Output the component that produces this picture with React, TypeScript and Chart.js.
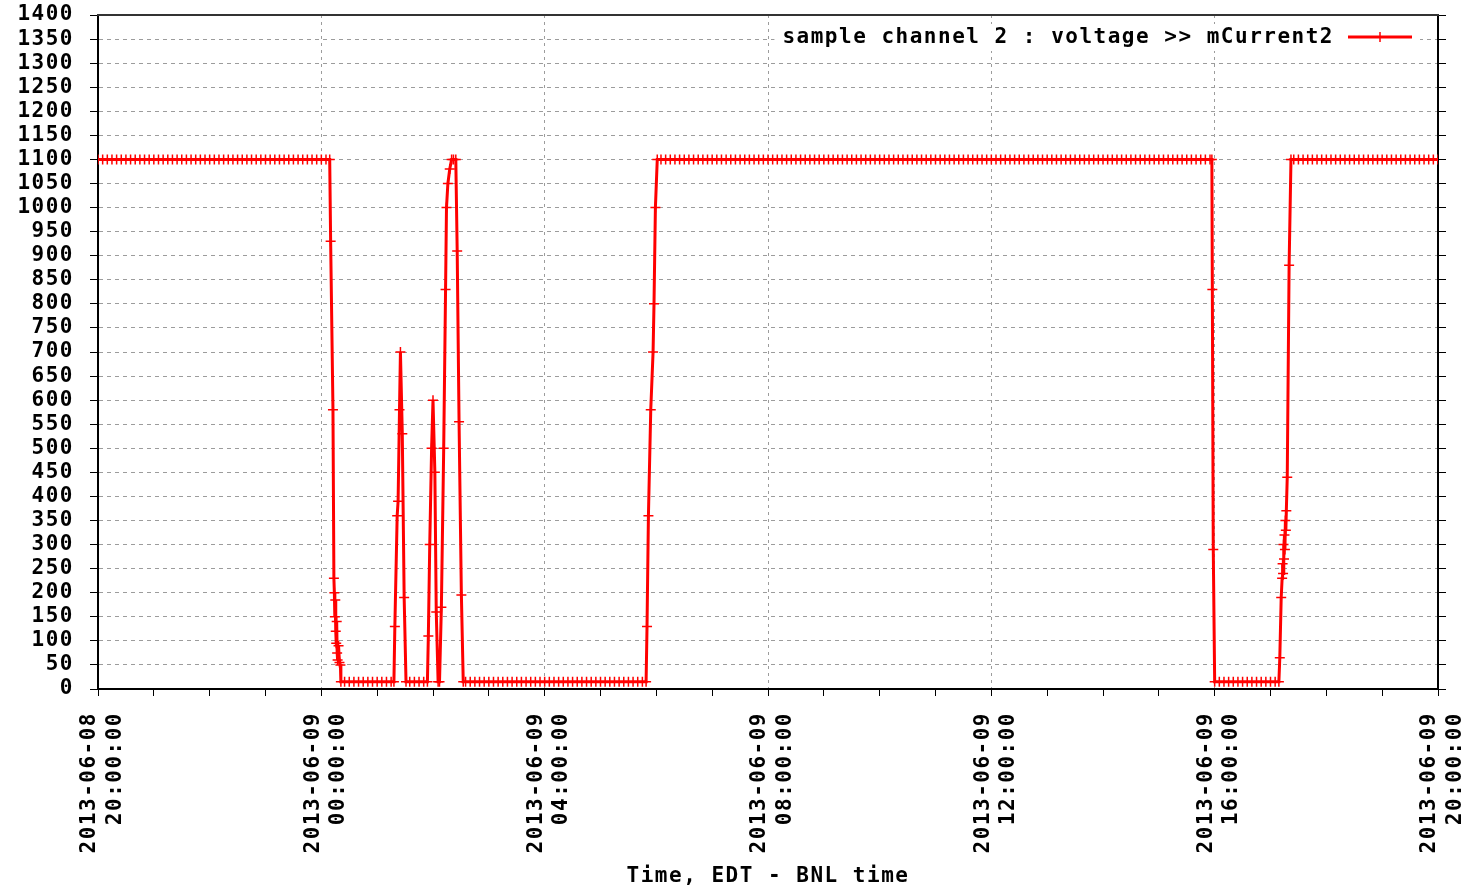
import React, { useEffect, useRef } from "react";
import { Chart, registerables } from "chart.js";

Chart.register(...registerables);

// ---- text ----
const SERIES_LABEL = "sample channel 2 : voltage >> mCurrent2";
const X_TITLE = "Time, EDT - BNL time";
// one label every 4 hours, starting 2013-06-08 20:00:00
const X_TICK_LABELS = [
  ["2013-06-08", "20:00:00"],
  ["2013-06-09", "00:00:00"],
  ["2013-06-09", "04:00:00"],
  ["2013-06-09", "08:00:00"],
  ["2013-06-09", "12:00:00"],
  ["2013-06-09", "16:00:00"],
  ["2013-06-09", "20:00:00"],
];

// ---- data: [minutes since 2013-06-08 20:00 EDT, mCurrent2] ----
const segA = [
  [0, 1100], [5, 1100], [10, 1100], [15, 1100], [20, 1100], [25, 1100], [30, 1100], [35, 1100], [40, 1100], [45, 1100],
  [50, 1100], [55, 1100], [60, 1100], [65, 1100], [70, 1100], [75, 1100], [80, 1100], [85, 1100], [90, 1100], [95, 1100],
  [100, 1100], [105, 1100], [110, 1100], [115, 1100], [120, 1100], [125, 1100], [130, 1100], [135, 1100], [140, 1100], [145, 1100],
  [150, 1100], [155, 1100], [160, 1100], [165, 1100], [170, 1100], [175, 1100], [180, 1100], [185, 1100], [190, 1100], [195, 1100],
  [200, 1100], [205, 1100], [210, 1100], [215, 1100], [220, 1100], [225, 1100], [230, 1100], [235, 1100], [240, 1100], [245, 1100],
  [249, 1100],
];
const segDrop1 = [
  [250, 930], [252.5, 580], [253.5, 230], [254, 200], [254.5, 150], [255, 185], [255.5, 120], [256, 95],
  [256.5, 140], [257, 75], [257.5, 60], [258.5, 90], [259.5, 55], [260.5, 50],
];
const segLow1 = [
  [261, 15], [265, 15], [270, 15], [275, 15], [280, 15], [285, 15], [290, 15], [295, 15], [300, 15], [305, 15],
  [310, 15], [315, 15], [318, 15],
];
const segSpikes = [
  [319, 130], [321.5, 360], [322.5, 390], [324, 580], [325, 700], [327, 530], [329, 190], [331, 15],
  [335, 15], [340, 15], [345, 15], [350, 15], [354, 15],
  [355, 110], [356.5, 300], [358.5, 500], [360, 600], [362, 450], [363.5, 160], [365.5, 15], [367, 15],
  [369, 170], [371.5, 500], [373.5, 830], [374.5, 1000], [376, 1050], [378, 1080], [380, 1100], [382, 1100],
  [384.5, 1100], [386, 910], [388, 555], [390.5, 195], [392.5, 15],
];
const segLow2 = [
  [395, 15], [400, 15], [405, 15], [410, 15], [415, 15], [420, 15], [425, 15], [430, 15], [435, 15], [440, 15],
  [445, 15], [450, 15], [455, 15], [460, 15], [465, 15], [470, 15], [475, 15], [480, 15], [485, 15], [490, 15],
  [495, 15], [500, 15], [505, 15], [510, 15], [515, 15], [520, 15], [525, 15], [530, 15], [535, 15], [540, 15],
  [545, 15], [550, 15], [555, 15], [560, 15], [565, 15], [570, 15], [575, 15], [580, 15], [585, 15], [589, 15],
];
const segRise1 = [
  [590, 130], [591.5, 360], [594, 580], [596.5, 700], [597.5, 800], [599, 1000], [601, 1100],
];
const segHigh = [
  [605, 1100], [610, 1100], [615, 1100], [620, 1100], [625, 1100], [630, 1100], [635, 1100], [640, 1100], [645, 1100], [650, 1100],
  [655, 1100], [660, 1100], [665, 1100], [670, 1100], [675, 1100], [680, 1100], [685, 1100], [690, 1100], [695, 1100], [700, 1100],
  [705, 1100], [710, 1100], [715, 1100], [720, 1100], [725, 1100], [730, 1100], [735, 1100], [740, 1100], [745, 1100], [750, 1100],
  [755, 1100], [760, 1100], [765, 1100], [770, 1100], [775, 1100], [780, 1100], [785, 1100], [790, 1100], [795, 1100], [800, 1100],
  [805, 1100], [810, 1100], [815, 1100], [820, 1100], [825, 1100], [830, 1100], [835, 1100], [840, 1100], [845, 1100], [850, 1100],
  [855, 1100], [860, 1100], [865, 1100], [870, 1100], [875, 1100], [880, 1100], [885, 1100], [890, 1100], [895, 1100], [900, 1100],
  [905, 1100], [910, 1100], [915, 1100], [920, 1100], [925, 1100], [930, 1100], [935, 1100], [940, 1100], [945, 1100], [950, 1100],
  [955, 1100], [960, 1100], [965, 1100], [970, 1100], [975, 1100], [980, 1100], [985, 1100], [990, 1100], [995, 1100], [1000, 1100],
  [1005, 1100], [1010, 1100], [1015, 1100], [1020, 1100], [1025, 1100], [1030, 1100], [1035, 1100], [1040, 1100], [1045, 1100], [1050, 1100],
  [1055, 1100], [1060, 1100], [1065, 1100], [1070, 1100], [1075, 1100], [1080, 1100], [1085, 1100], [1090, 1100], [1095, 1100], [1100, 1100],
  [1105, 1100], [1110, 1100], [1115, 1100], [1120, 1100], [1125, 1100], [1130, 1100], [1135, 1100], [1140, 1100], [1145, 1100], [1150, 1100],
  [1155, 1100], [1160, 1100], [1165, 1100], [1170, 1100], [1175, 1100], [1180, 1100], [1185, 1100], [1190, 1100], [1195, 1100], [1197, 1100],
];
const segDrop2 = [
  [1197.5, 830], [1198.5, 290], [1200, 15],
];
const segLow3 = [
  [1205, 15], [1210, 15], [1215, 15], [1220, 15], [1225, 15], [1230, 15], [1235, 15], [1240, 15], [1245, 15], [1250, 15],
  [1255, 15], [1260, 15], [1265, 15], [1269, 15],
];
const segRise2 = [
  [1270, 65], [1271.5, 190], [1272.5, 230], [1273, 260], [1273.5, 240], [1274, 300], [1274.5, 270], [1275, 320],
  [1275.5, 290], [1276, 350], [1276.5, 330], [1277, 370], [1278, 440], [1280, 880], [1282, 1100],
];
const segTail = [
  [1285, 1100], [1290, 1100], [1295, 1100], [1300, 1100], [1305, 1100], [1310, 1100], [1315, 1100], [1320, 1100], [1325, 1100], [1330, 1100],
  [1335, 1100], [1340, 1100], [1345, 1100], [1350, 1100], [1355, 1100], [1360, 1100], [1365, 1100], [1370, 1100], [1375, 1100], [1380, 1100],
  [1385, 1100], [1390, 1100], [1395, 1100], [1400, 1100], [1405, 1100], [1410, 1100], [1415, 1100], [1420, 1100], [1425, 1100], [1430, 1100],
  [1435, 1100], [1440, 1100],
];

const SEGMENTS = [segA, segDrop1, segLow1, segSpikes, segLow2, segRise1, segHigh, segDrop2, segLow3, segRise2, segTail];

// ---- styles ----
const FONT_FAMILY = "'DejaVu Sans Mono', 'Liberation Mono', monospace";
const FONT_SIZE = 21;
const LETTER_SPACING = "1.5px";
const RED = "#ff0000";
const GRID = "#9c9c9c";

const spacingPlugin = {
  id: "letterSpacing",
  beforeUpdate(c: any) { c.ctx.letterSpacing = LETTER_SPACING; },
  beforeLayout(c: any) { c.ctx.letterSpacing = LETTER_SPACING; },
  beforeDraw(c: any) { c.ctx.letterSpacing = LETTER_SPACING; },
};

const framePlugin = {
  id: "frameTop",
  afterDraw(c: any) {
    const { ctx, chartArea } = c;
    ctx.save();
    ctx.strokeStyle = "#333";
    ctx.lineWidth = 2;
    ctx.beginPath();
    ctx.moveTo(chartArea.left - 1, chartArea.top);
    ctx.lineTo(chartArea.right + 1, chartArea.top);
    ctx.stroke();
    ctx.restore();
  },
};

const legendPlugin = {
  id: "insideLegend",
  afterDraw(c: any) {
    const { ctx, chartArea } = c;
    ctx.save();
    ctx.letterSpacing = LETTER_SPACING;
    ctx.font = `bold ${FONT_SIZE}px ${FONT_FAMILY}`;
    const lineEnd = chartArea.right - 26;
    const lineStart = lineEnd - 64;
    const textW = ctx.measureText(SERIES_LABEL).width;
    const textRight = lineStart - 14;
    const textLeft = textRight - textW;
    const cy = chartArea.top + 22;
    ctx.fillStyle = "#ffffff";
    ctx.fillRect(textLeft - 8, cy - 13, lineEnd - textLeft + 16, 27);
    ctx.fillStyle = "#000";
    ctx.textAlign = "left";
    ctx.textBaseline = "middle";
    ctx.fillText(SERIES_LABEL, textLeft, cy + 1);
    ctx.strokeStyle = RED;
    ctx.lineWidth = 3;
    ctx.beginPath();
    ctx.moveTo(lineStart, cy);
    ctx.lineTo(lineEnd, cy);
    ctx.stroke();
    ctx.lineWidth = 1.5;
    ctx.beginPath();
    ctx.moveTo((lineStart + lineEnd) / 2, cy - 5);
    ctx.lineTo((lineStart + lineEnd) / 2, cy + 5);
    ctx.stroke();
    ctx.restore();
  },
};

export default function App() {
  const ref = useRef<HTMLCanvasElement | null>(null);

  useEffect(() => {
    if (!ref.current) return;
    const font = { family: FONT_FAMILY, size: FONT_SIZE, weight: "bold" as const };
    const points = SEGMENTS.flat().map(([x, y]) => ({ x, y }));

    const chart = new Chart(ref.current, {
      type: "line",
      data: {
        datasets: [
          {
            label: SERIES_LABEL,
            data: points,
            borderColor: RED,
            backgroundColor: RED,
            borderWidth: 3,
            pointStyle: "cross",
            pointRadius: 5,
            pointBorderWidth: 1.5,
            pointBorderColor: RED,
            tension: 0,
          },
        ],
      },
      options: {
        animation: false,
        responsive: false,
        layout: { padding: { top: 15, left: 0, right: 0, bottom: 0 } },
        plugins: { legend: { display: false }, tooltip: { enabled: false } },
        scales: {
          x: {
            type: "linear",
            min: 0,
            max: 1440,
            afterFit: (s: any) => { s.height = 204; s.paddingLeft = 0; s.paddingRight = 0; },
            ticks: {
              stepSize: 60,
              autoSkip: false,
              maxRotation: 90,
              minRotation: 90,
              padding: 16,
              labelOffset: -8,
              color: "#000",
              font,
              callback: (v: any) => (v % 240 === 0 ? X_TICK_LABELS[v / 240] : ""),
            },
            grid: {
              color: (ctx: any) => {
                const v = ctx.tick ? ctx.tick.value : -1;
                return v % 240 === 0 && v > 0 && v < 1440 ? GRID : "rgba(0,0,0,0)";
              },
              tickColor: "#000",
              tickLength: 7,
              lineWidth: 1,
            },
            border: { display: true, color: "#000", width: 2, dash: [3, 4] },
            title: { display: true, text: X_TITLE, color: "#000", font, padding: { top: 0, bottom: 4 } },
          },
          y: {
            position: "left",
            min: 0,
            max: 1400,
            afterFit: (s: any) => { s.width = 98; s.paddingTop = 0; s.paddingBottom = 0; },
            ticks: {
              stepSize: 50,
              autoSkip: false,
              padding: 16,
              color: "#000",
              font,
              callback: (v: any) => String(v),
            },
            grid: {
              color: (ctx: any) => {
                const v = ctx.tick ? ctx.tick.value : -1;
                return v > 0 && v < 1400 ? GRID : "rgba(0,0,0,0)";
              },
              tickColor: "#000",
              tickLength: 8,
            },
            border: { display: true, color: "#000", width: 2, dash: [4, 4] },
          },
          y2: {
            position: "right",
            min: 0,
            max: 1400,
            afterFit: (s: any) => { s.width = 41; s.paddingTop = 0; s.paddingBottom = 0; },
            ticks: { stepSize: 50, autoSkip: false, padding: 0, callback: () => "" },
            grid: { drawOnChartArea: false, tickColor: "#000", tickLength: 8 },
            border: { display: true, color: "#000", width: 2 },
          },
        },
      },
      plugins: [spacingPlugin, framePlugin, legendPlugin],
    } as any);

    return () => chart.destroy();
  }, []);

  return (
    <div style={{ position: "fixed", left: 0, top: 0, width: 1479, height: 893, background: "#fff" }}>
      <canvas ref={ref} width={1479} height={893} style={{ display: "block" }} />
    </div>
  );
}
